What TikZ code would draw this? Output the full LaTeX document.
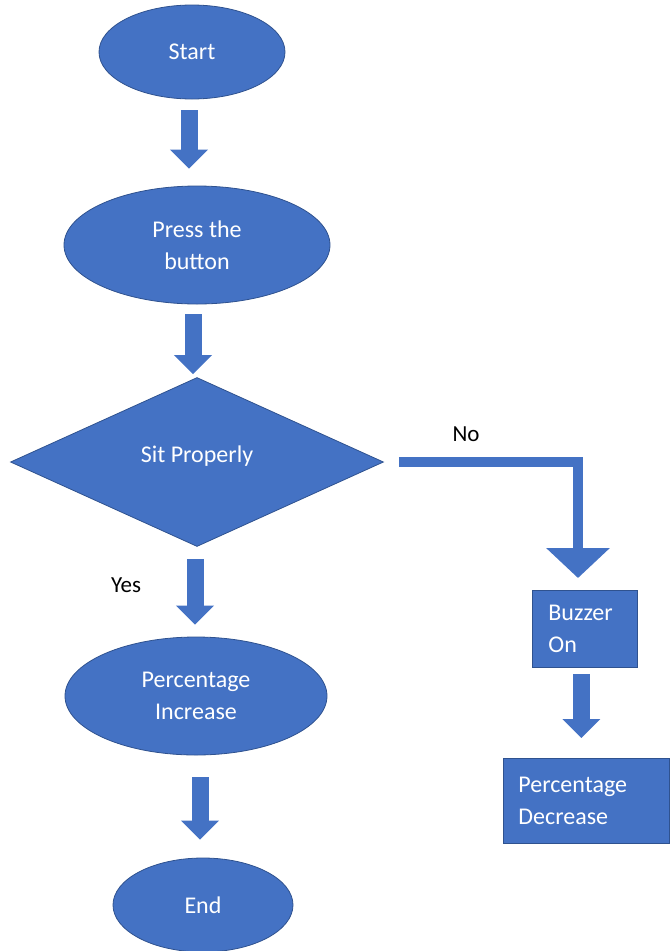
\documentclass[tikz,border=0pt]{standalone}
\usepackage{fontspec}
\setmainfont{Carlito}
\usetikzlibrary{shapes.geometric,arrows.meta}
\definecolor{boxblue}{HTML}{4472C4}
\definecolor{edgeblue}{HTML}{2F528F}
\tikzset{
  shapebase/.style={fill=boxblue, draw=edgeblue, line width=0.8pt, text=white, font=\fontsize{24}{32}\selectfont, inner sep=0pt, align=center},
  oval/.style={shapebase, ellipse},
  decision/.style={shapebase, diamond},
  procbox/.style={shapebase, rectangle, align=left, anchor=north west},
  blockarrow/.style={draw=boxblue, line width=17pt, -{Triangle[length=19pt,width=37pt]}},
  thinarrow/.style={draw=boxblue, line width=10pt, line join=miter, -{Triangle[length=30pt,width=62pt]}},
  plainlabel/.style={text=black, font=\fontsize{23}{27}\selectfont, inner sep=0pt},
}
\begin{document}
\begin{tikzpicture}[x=1pt,y=1pt]
\useasboundingbox (0,0) rectangle (670,-951);
\node[oval, minimum width=186pt, minimum height=94pt] (start) at (192,-52) {Start};
\node[oval, minimum width=266pt, minimum height=118pt] (press) at (197,-245) {Press the\\button};
\node[decision, minimum width=373pt, minimum height=169pt] (sit) at (197,-462) {\raisebox{16pt}{Sit Properly}};
\node[oval, minimum width=262pt, minimum height=118pt] (pinc) at (196,-696) {Percentage\\Increase};
\node[oval, minimum width=180pt, minimum height=94pt] (end) at (203,-905) {End};
\node[procbox, text width=73pt, minimum height=77pt, inner xsep=16pt] (buzz) at (532,-590) {Buzzer\\On};
\node[procbox, text width=136pt, minimum height=85pt, inner xsep=15pt] (pdec) at (503,-758) {Percentage\\Decrease};
\node[plainlabel] (no) at (466,-434) {No};
\node[plainlabel] (yes) at (126,-585) {Yes};
\coordinate (noturn) at (578,-462);
\draw[blockarrow, shorten <=11pt, shorten >=17pt] ([xshift=-3pt]start.south) -- ([xshift=-8pt]press.north);
\draw[blockarrow, shorten <=10pt, shorten >=3pt] ([xshift=-4pt]press.south) -- ([xshift=-4pt]sit.north);
\draw[blockarrow, shorten <=12pt, shorten >=12pt] ([xshift=-2pt]sit.south) -- ([xshift=-1pt]pinc.north);
\draw[blockarrow, shorten <=22pt, shorten >=18pt] ([xshift=4pt]pinc.south) -- ([xshift=-3pt]end.north);
\draw[thinarrow, shorten <=15pt] (sit.east) -- (noturn) -- ([yshift=12pt]noturn |- buzz.north);
\draw[blockarrow, shorten <=6pt, shorten >=20pt] ([xshift=-3.5pt]buzz.south) -- ([xshift=-3.5pt]buzz.south |- pdec.north);
\end{tikzpicture}
\end{document}
